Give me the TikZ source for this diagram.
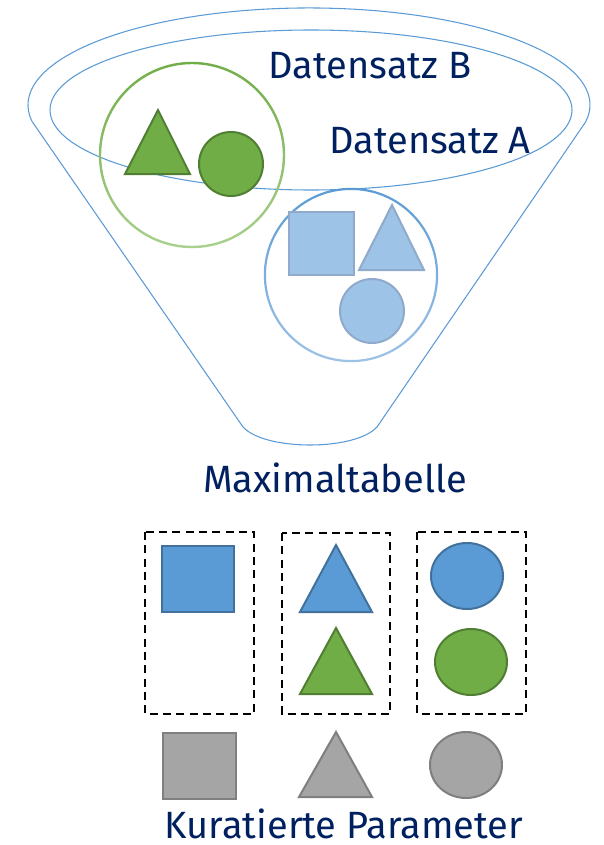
\documentclass[tikz,border=0pt]{standalone}
\usepackage{fontspec}
\setmainfont{Fira Sans}
\definecolor{navy}{HTML}{002060}
\definecolor{funnel}{HTML}{5B9BD5}
\definecolor{gdark}{HTML}{70AD47}
\definecolor{glight}{HTML}{A9D18E}
\definecolor{gstroke}{HTML}{507E32}
\definecolor{bdark}{HTML}{5B9BD5}
\definecolor{blight}{HTML}{9DC3E6}
\definecolor{bstroke}{HTML}{41719C}
\definecolor{lbstroke}{HTML}{8FAACB}
\definecolor{gray1}{HTML}{A5A5A5}
\definecolor{gray2}{HTML}{7F7F7F}
\begin{document}
\begin{tikzpicture}[x=0.75pt,y=-0.75pt,
  lbl/.style={text=navy,font=\fontsize{28.5}{33}\selectfont,inner sep=0pt,anchor=base},
  funnelline/.style={draw=funnel,line width=0.8pt},
  grpbox/.style={draw=black,line width=1.6pt,dash pattern=on 6pt off 4pt},
  bshape/.style={fill=bdark,draw=bstroke,line width=1.5pt},
  gshape/.style={fill=gdark,draw=gstroke,line width=1.5pt},
  lbshape/.style={fill=blight,draw=lbstroke,line width=1.5pt},
  grayshape/.style={fill=gray1,draw=gray2,line width=1.5pt}]
\useasboundingbox (0,0) rectangle (603,845);
% funnel
\coordinate (fl) at (32.3,121.8);
\coordinate (bl) at (243,427);
\coordinate (br) at (377,427);
\coordinate (fr) at (585.7,121.8);
\draw[funnelline] (fl) -- (bl)
  .. controls (265,451) and (355,451) .. (br)
  -- (fr)
  arc[start angle=10,end angle=-190,x radius=281,y radius=97];
\draw[funnelline] (311,110) ellipse[x radius=261,y radius=80];
% group circles
\shade[top color=gdark,bottom color=glight,even odd rule] (192,155) circle (93.2) (192,155) circle (90.8);
\shade[top color=bdark,bottom color=blight,even odd rule] (351,275) circle (87.2) (351,275) circle (85);
% set B shapes
\draw[gshape] (158,110) -- (190,174) -- (125,174) -- cycle;
\draw[gshape] (231,164) circle (32);
% set A shapes
\draw[lbshape] (289,212) rectangle (354,275);
\draw[lbshape] (392,205) -- (424,270) -- (359,270) -- cycle;
\draw[lbshape] (372,311) circle (32);
% labels
\node[lbl] (dsb) at (370,79) {Datensatz B};
\node[lbl] (dsa) at (430,153) {Datensatz A};
\node[lbl] (max) at (335,492) {Maximaltabelle};
\node[lbl] (kur) at (344,838.5) {Kuratierte Parameter};
% dashed boxes
\draw[grpbox] (145,532) rectangle (254,714);
\draw[grpbox] (282,533) rectangle (390,714);
\draw[grpbox] (417,532) rectangle (526,714);
\draw[bshape] (162,546) rectangle (234,612);
\draw[bshape] (336,545) -- (372,612) -- (300,612) -- cycle;
\draw[gshape] (336,628) -- (372,694) -- (300,694) -- cycle;
\draw[bshape] (467,576) ellipse[x radius=36,y radius=33];
\draw[gshape] (471,662) ellipse[x radius=36,y radius=33];
% gray row
\draw[grayshape] (163,733) rectangle (236,799);
\draw[grayshape] (336,732) -- (372,797) -- (299,797) -- cycle;
\draw[grayshape] (466,765) ellipse[x radius=36,y radius=33];
\end{tikzpicture}
\end{document}
